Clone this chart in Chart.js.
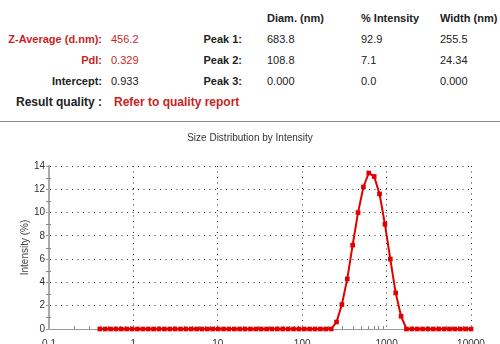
<!DOCTYPE html>
<html>
<head>
<meta charset="utf-8">
<script src="https://cdn.jsdelivr.net/npm/chart.js@4.4.1/dist/chart.umd.min.js"></script>
<style>
  html, body { margin: 0; padding: 0; width: 500px; height: 344px; overflow: hidden; background: #fff; }
  body { position: relative; font-family: "Liberation Sans", Arial, sans-serif; }
  .t { position: absolute; font-size: 11px; line-height: 11px; white-space: nowrap; color: #222; }
  .b { font-weight: bold; }
  .r { text-align: right; }
  .red { color: #cc1f1f; }
  #sep { position: absolute; left: 0; top: 121px; width: 500px; height: 1px; background: #8a8a8a; }
  #wrap { position: absolute; left: 0; top: 122px; width: 500px; height: 232px; }
</style>
</head>
<body>
<div class="t b" style="left:267px;top:12.6px">Diam. (nm)</div>
<div class="t b" style="left:361px;top:12.6px">% Intensity</div>
<div class="t b" style="left:440px;top:12.6px">Width (nm)</div>

<div class="t b r red" style="right:398px;top:33.8px">Z-Average (d.nm):</div>
<div class="t red" style="left:111px;top:33.8px">456.2</div>
<div class="t b r red" style="right:398px;top:55px">PdI:</div>
<div class="t red" style="left:111px;top:55px">0.329</div>
<div class="t b r" style="right:398px;top:75.6px">Intercept:</div>
<div class="t" style="left:111px;top:75.6px">0.933</div>

<div class="t b r" style="right:258px;top:33.8px">Peak 1:</div>
<div class="t" style="left:267px;top:33.8px">683.8</div>
<div class="t" style="left:361px;top:33.8px">92.9</div>
<div class="t" style="left:440px;top:33.8px">255.5</div>
<div class="t b r" style="right:258px;top:55px">Peak 2:</div>
<div class="t" style="left:267px;top:55px">108.8</div>
<div class="t" style="left:361px;top:55px">7.1</div>
<div class="t" style="left:440px;top:55px">24.34</div>
<div class="t b r" style="right:258px;top:75.6px">Peak 3:</div>
<div class="t" style="left:267px;top:75.6px">0.000</div>
<div class="t" style="left:361px;top:75.6px">0.0</div>
<div class="t" style="left:440px;top:75.6px">0.000</div>

<div class="t b" style="left:16px;top:96px;font-size:12px;line-height:12px">Result quality :</div>
<div class="t b red" style="left:114px;top:96px;font-size:12px;line-height:12px">Refer to quality report</div>

<div id="sep"></div>
<div id="wrap"><canvas id="chart" width="500" height="232"></canvas></div>

<script>
// size classes (d.nm) and intensity (%)
const sizes = [0.4, 0.4632, 0.5365, 0.6213, 0.7195, 0.8332, 0.9649, 1.117, 1.294, 1.499,
  1.736, 2.01, 2.328, 2.696, 3.122, 3.615, 4.187, 4.849, 5.615, 6.503,
  7.531, 8.721, 10.1, 11.7, 13.54, 15.69, 18.17, 21.04, 24.36, 28.21,
  32.67, 37.84, 43.82, 50.75, 58.77, 68.06, 78.82, 91.28, 105.7, 122.4,
  141.8, 164.2, 190.1, 220.2, 255, 295.3, 342, 396.1, 458.7, 531.2,
  615.1, 712.4, 825, 955.4, 1106, 1281, 1484, 1718, 1990, 2305,
  2669, 3091, 3580, 4145, 4801, 5560, 6439, 7456, 8635, 10000];
const intensity = [0, 0, 0, 0, 0, 0, 0, 0, 0, 0,
  0, 0, 0, 0, 0, 0, 0, 0, 0, 0,
  0, 0, 0, 0, 0, 0, 0, 0, 0, 0,
  0, 0, 0, 0, 0, 0, 0, 0, 0, 0,
  0, 0, 0, 0, 0.6, 2.1, 4.3, 7.2, 10.0, 12.2,
  13.4, 13.1, 11.6, 9.0, 6.0, 3.1, 1.1, 0, 0, 0,
  0, 0, 0, 0, 0, 0, 0, 0, 0, 0];
const xTicks = [0.1, 1, 10, 100, 1000, 10000];
const xTickLabels = ["0.1", "1", "10", "100", "1000", "10000"];
const yMinorTicks = [1, 3, 5, 7, 9, 11, 13];

const font = "'Liberation Sans', Arial, sans-serif";
const red = "#e00000";

// small minor tick marks like the instrument software draws
const minorTicks = {
  id: "minorTicks",
  beforeDatasetsDraw(chart) {
    const { ctx, scales: { x, y } } = chart;
    ctx.save();
    ctx.strokeStyle = "#888";
    ctx.lineWidth = 1;
    ctx.beginPath();
    xTicks.slice(0, -1).forEach((d) => {
      for (let m = 2; m <= 9; m++) {
        const px = Math.round(x.getPixelForValue(d * m)) + 0.5;
        ctx.moveTo(px, y.bottom);
        ctx.lineTo(px, y.bottom - 3);
      }
    });
    yMinorTicks.forEach((v) => {
      const py = Math.round(y.getPixelForValue(v)) + 0.5;
      ctx.moveTo(x.left - 3, py);
      ctx.lineTo(x.left + 2, py);
    });
    ctx.stroke();
    ctx.restore();
  }
};

new Chart(document.getElementById("chart"), {
  type: "line",
  data: {
    datasets: [{
      data: sizes.map((s, i) => ({ x: s, y: intensity[i] })),
      borderColor: red,
      backgroundColor: red,
      borderWidth: 2,
      tension: 0,
      pointStyle: "rect",
      pointRadius: 3.3,
      pointBorderWidth: 0,
      clip: false
    }]
  },
  options: {
    responsive: false,
    animation: false,
    // left padding equals right padding so the title centres on the page
    layout: { padding: { left: 29, right: 29, top: 0, bottom: 0 } },
    plugins: {
      legend: { display: false },
      tooltip: { enabled: false },
      title: {
        display: true,
        text: "Size Distribution by Intensity",
        color: "#333",
        font: { family: font, size: 10, weight: "normal" },
        padding: { top: 10, bottom: 22 }
      }
    },
    scales: {
      x: {
        type: "logarithmic",
        min: 0.1,
        max: 10000,
        afterBuildTicks: (s) => { s.ticks = xTicks.map((v) => ({ value: v })); },
        afterFit: (s) => { s.height = 25; },
        ticks: {
          color: "#333",
          font: { family: font, size: 10 },
          padding: 9,
          maxRotation: 0,
          autoSkip: false,
          callback: (v, i) => xTickLabels[i]
        },
        grid: {
          drawTicks: false,
          color: (c) => (c.tick && c.tick.value === 0.1 ? "transparent" : "#222"),
          lineWidth: 1
        },
        border: { display: true, color: "#999", width: 1, dash: [1, 4.5] }
      },
      y: {
        min: 0,
        max: 14,
        afterFit: (s) => { s.width = 20; },
        ticks: {
          stepSize: 2,
          color: "#333",
          font: { family: font, size: 10 },
          padding: 1
        },
        grid: {
          drawTicks: true,
          tickLength: 3,
          tickColor: "#999",
          color: (c) => (c.tick && c.tick.value === 0 ? "transparent" : "#222"),
          lineWidth: 1
        },
        border: { display: true, color: "#aaa", width: 2, dash: [1, 4.5] },
        title: {
          display: true,
          text: "Intensity (%)",
          color: "#444",
          font: { family: font, size: 10 },
          padding: { top: -10, bottom: 0 }
        }
      }
    }
  },
  plugins: [minorTicks]
});
</script>
</body>
</html>
